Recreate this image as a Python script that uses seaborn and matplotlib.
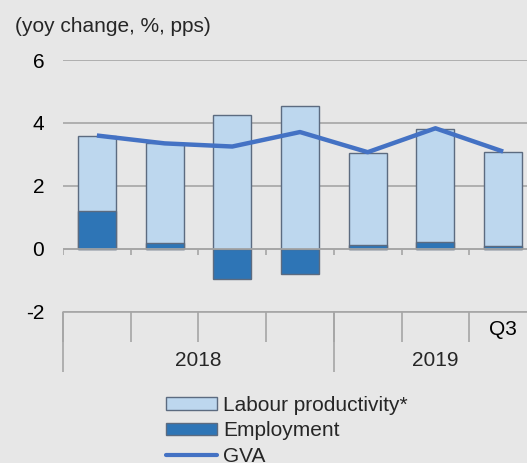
import numpy as np
import pandas as pd
import seaborn as sns
import matplotlib
matplotlib.use("Agg")
import matplotlib.pyplot as plt
from matplotlib.patches import Patch
from matplotlib.lines import Line2D

# ---- data ----
quarter_labels = ["", "", "", "", "", "", "Q3"]
years = ["2018", "2019"]
year_spans = [(0, 3), (4, 6)]          # first/last quarter index of each year
productivity = [2.38, 3.18, 4.25, 4.54, 2.92, 3.60, 2.97]
employment = [1.19, 0.17, -0.96, -0.80, 0.13, 0.21, 0.10]
gva = [3.60, 3.35, 3.25, 3.71, 3.07, 3.83, 3.09]
y_ticks = [-2, 0, 2, 4, 6]
y_tick_labels = ["-2", "0", "2", "4", "6"]
series_names = ["Labour productivity*", "Employment", "GVA"]

# ---- style ----
BG = "#e7e7e7"
LIGHT = "#bdd7ee"
DARK = "#2e75b6"
EDGE = "#5c6b80"
LINE = "#4472c4"
GRID = "#a6a6a6"

sns.set_style("white")
plt.rcParams["font.family"] = ["Liberation Sans", "DejaVu Sans"]
plt.rcParams["axes.unicode_minus"] = False

n = len(productivity)
pos = np.arange(n)
emp = np.array(employment)
prod_top = np.array(productivity) + np.clip(emp, 0, None)
df = pd.DataFrame({"pos": pos, "prod_top": prod_top, "emp": emp, "gva": gva})

W, H = 527, 463
fig = plt.figure(figsize=(W / 100, H / 100), dpi=100, facecolor=BG)
ax_left, ax_right, ax_top, ax_bot = 63, 537, 60, 311.7
ax = fig.add_axes([ax_left / W, (H - ax_bot) / H, (ax_right - ax_left) / W, (ax_bot - ax_top) / H])
ax.set_facecolor(BG)
ax.set_axisbelow(True)

sns.barplot(data=df, x="pos", y="prod_top", native_scale=True, width=0.56,
            color=LIGHT, saturation=1, edgecolor=EDGE, linewidth=1, ax=ax, zorder=2)
sns.barplot(data=df, x="pos", y="emp", native_scale=True, width=0.56,
            color=DARK, saturation=1, edgecolor=EDGE, linewidth=1, ax=ax, zorder=3)
sns.lineplot(data=df, x="pos", y="gva", color=LINE, lw=3.2, ax=ax, zorder=5,
             solid_capstyle="butt")

ax.set_xlim(-0.5, n - 0.5)
ax.set_ylim(-2, 6)
ax.set_xlabel("")
ax.set_ylabel("")
for s in ax.spines.values():
    s.set_visible(False)

# y axis
ax.set_yticks(y_ticks, labels=y_tick_labels)
ax.tick_params(axis="y", length=0, pad=13.5, labelsize=15, labelcolor="black")
ax.yaxis.grid(True, color=GRID, lw=1.2)
ax.xaxis.grid(False)
ax.axhline(0, color=GRID, lw=1.2, zorder=4)
ax.axhline(-2, color=GRID, lw=1.2, zorder=4, clip_on=False)

# x axis: quarter labels and boundaries
boundaries = np.arange(-0.5, n, 1.0)
ax.set_xticks(pos, labels=quarter_labels)
ax.set_xticks(boundaries, minor=True)
ax.tick_params(axis="x", which="both", bottom=True)
ax.tick_params(axis="x", which="major", length=0, pad=6, labelsize=15, labelcolor="black")
ax.tick_params(axis="x", which="minor", length=21.6, width=1.2, color=GRID, direction="out")
# small ticks hanging from the zero line
ax.vlines(boundaries, -0.2, 0, colors=GRID, lw=1.2, zorder=1)

# year dividers and labels
xt = ax.get_xaxis_transform()
year_edges = sorted({s - 0.5 for s, e in year_spans} | {e + 0.5 for s, e in year_spans})
ax.vlines(year_edges, -0.238, 0, colors=GRID, lw=1.2, transform=xt, clip_on=False)
for yr, (s, e) in zip(years, year_spans):
    ax.text((s + e) / 2, -0.2173, yr, transform=xt, ha="center", va="baseline", fontsize=15)

# title
fig.text(15 / W, 1 - 31.5 / H, "(yoy change, %, pps)", fontsize=15, va="baseline", ha="left")

# legend
handles = [Patch(facecolor=LIGHT, edgecolor=EDGE, lw=1),
           Patch(facecolor=DARK, edgecolor=EDGE, lw=1),
           Line2D([], [], color=LINE, lw=3)]
fig.legend(handles, series_names, loc="upper left", bbox_to_anchor=(166 / W, 1 - 396 / H),
           frameon=False, fontsize=15, handlelength=2.45, handleheight=0.55,
           handletextpad=0.3, labelspacing=0.3, borderpad=0, borderaxespad=0)

fig.savefig("out.png", dpi=100, facecolor=BG)
